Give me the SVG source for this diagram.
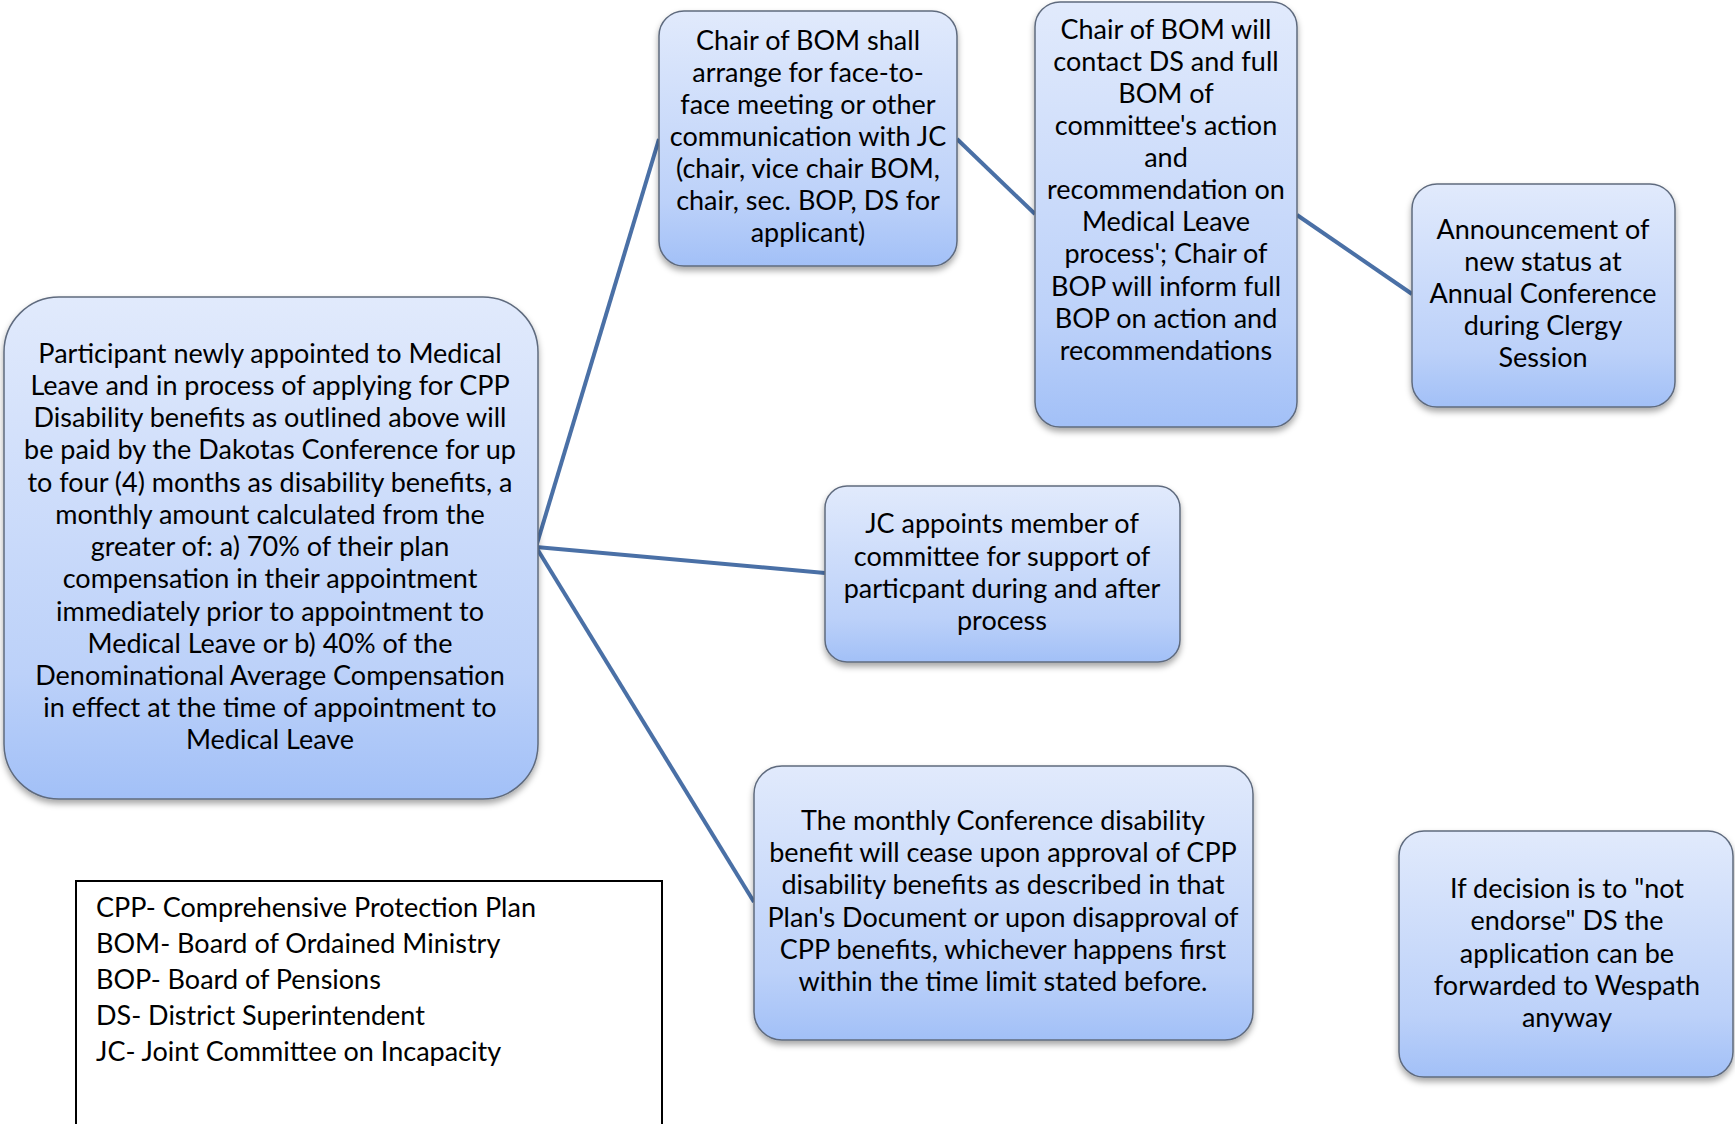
<svg xmlns="http://www.w3.org/2000/svg" width="1735" height="1124" viewBox="0 0 1735 1124">
<defs>
<linearGradient id="g" x1="0" y1="0" x2="0" y2="1">
<stop offset="0" stop-color="#e1eafc"/>
<stop offset="0.75" stop-color="#bcd1f9"/>
<stop offset="1" stop-color="#a2c0f7"/>
</linearGradient>
<filter id="sh" x="-10%" y="-10%" width="120%" height="130%">
<feDropShadow dx="0" dy="4" stdDeviation="3" flood-color="#000" flood-opacity="0.35"/>
</filter>
</defs>
<style>
.box{fill:url(#g);stroke:#5f6b7e;stroke-width:1.5;filter:url(#sh)}
.t{font-family:Lato,"Open Sans","Liberation Sans",sans-serif;font-size:27px;fill:#000;text-anchor:middle}
.l{font-family:Lato,"Open Sans","Liberation Sans",sans-serif;font-size:27px;fill:#000}
.c{stroke:#4a70a6;stroke-width:4;fill:none}
</style>
<rect width="1735" height="1124" fill="#fff"/>
<g id="connectors">
<line class="c" x1="536" y1="547" x2="659" y2="139"/>
<line class="c" x1="536" y1="547" x2="825" y2="573"/>
<line class="c" x1="536" y1="547" x2="754" y2="902"/>
<line class="c" x1="957" y1="139" x2="1035" y2="214"/>
<line class="c" x1="1297" y1="215" x2="1412" y2="294"/>
</g>
<g id="main">
<rect class="box" x="4" y="297" width="534" height="502" rx="55"/>
<text class="t"><tspan x="270" y="363">Participant newly appointed to Medical</tspan><tspan x="270" y="395">Leave and in process of applying for CPP</tspan><tspan x="270" y="427">Disability benefits as outlined above will</tspan><tspan x="270" y="459">be paid by the Dakotas Conference for up</tspan><tspan x="270" y="492">to four (4) months as disability benefits, a</tspan><tspan x="270" y="524">monthly amount calculated from the</tspan><tspan x="270" y="556">greater of: a) 70% of their plan</tspan><tspan x="270" y="588">compensation in their appointment</tspan><tspan x="270" y="621">immediately prior to appointment to</tspan><tspan x="270" y="653">Medical Leave or b) 40% of the</tspan><tspan x="270" y="685">Denominational Average Compensation</tspan><tspan x="270" y="717">in effect at the time of appointment to</tspan><tspan x="270" y="749">Medical Leave</tspan></text>
</g>
<g id="arrange">
<rect class="box" x="659" y="11" width="298" height="255" rx="25"/>
<text class="t"><tspan x="808" y="50">Chair of BOM shall</tspan><tspan x="808" y="82">arrange for face-to-</tspan><tspan x="808" y="114">face meeting or other</tspan><tspan x="808" y="146">communication with JC</tspan><tspan x="808" y="178">(chair, vice chair BOM,</tspan><tspan x="808" y="210">chair, sec. BOP, DS for</tspan><tspan x="808" y="242">applicant)</tspan></text>
</g>
<g id="contact">
<rect class="box" x="1035" y="2" width="262" height="425" rx="25"/>
<text class="t"><tspan x="1166" y="39">Chair of BOM will</tspan><tspan x="1166" y="71">contact DS and full</tspan><tspan x="1166" y="103">BOM of</tspan><tspan x="1166" y="135">committee's action</tspan><tspan x="1166" y="167">and</tspan><tspan x="1166" y="199">recommendation on</tspan><tspan x="1166" y="231">Medical Leave</tspan><tspan x="1166" y="263">process'; Chair of</tspan><tspan x="1166" y="296">BOP will inform full</tspan><tspan x="1166" y="328">BOP on action and</tspan><tspan x="1166" y="360">recommendations</tspan></text>
</g>
<g id="announce">
<rect class="box" x="1412" y="184" width="263" height="223" rx="25"/>
<text class="t"><tspan x="1543" y="239">Announcement of</tspan><tspan x="1543" y="271">new status at</tspan><tspan x="1543" y="303">Annual Conference</tspan><tspan x="1543" y="335">during Clergy</tspan><tspan x="1543" y="367">Session</tspan></text>
</g>
<g id="support">
<rect class="box" x="825" y="486" width="355" height="176" rx="22"/>
<text class="t"><tspan x="1002" y="533">JC appoints member of</tspan><tspan x="1002" y="566">committee for support of</tspan><tspan x="1002" y="598">particpant during and after</tspan><tspan x="1002" y="630">process</tspan></text>
</g>
<g id="cease">
<rect class="box" x="754" y="766" width="499" height="274" rx="28"/>
<text class="t"><tspan x="1003" y="830">The monthly Conference disability</tspan><tspan x="1003" y="862">benefit will cease upon approval of CPP</tspan><tspan x="1003" y="894">disability benefits as described in that</tspan><tspan x="1003" y="927">Plan's Document or upon disapproval of</tspan><tspan x="1003" y="959">CPP benefits, whichever happens first</tspan><tspan x="1003" y="991">within the time limit stated before.</tspan></text>
</g>
<g id="endorse">
<rect class="box" x="1399" y="831" width="334" height="246" rx="25"/>
<text class="t"><tspan x="1567" y="898">If decision is to "not</tspan><tspan x="1567" y="930">endorse" DS the</tspan><tspan x="1567" y="963">application can be</tspan><tspan x="1567" y="995">forwarded to Wespath</tspan><tspan x="1567" y="1027">anyway</tspan></text>
</g>
<g id="legend">
<rect x="76" y="881" width="586" height="245" fill="#fff" stroke="#000" stroke-width="2"/>
<text class="l"><tspan x="96" y="917">CPP- Comprehensive Protection Plan</tspan><tspan x="96" y="953">BOM- Board of Ordained Ministry</tspan><tspan x="96" y="989">BOP- Board of Pensions</tspan><tspan x="96" y="1025">DS- District Superintendent</tspan><tspan x="96" y="1061">JC- Joint Committee on Incapacity</tspan></text>
</g>
</svg>
